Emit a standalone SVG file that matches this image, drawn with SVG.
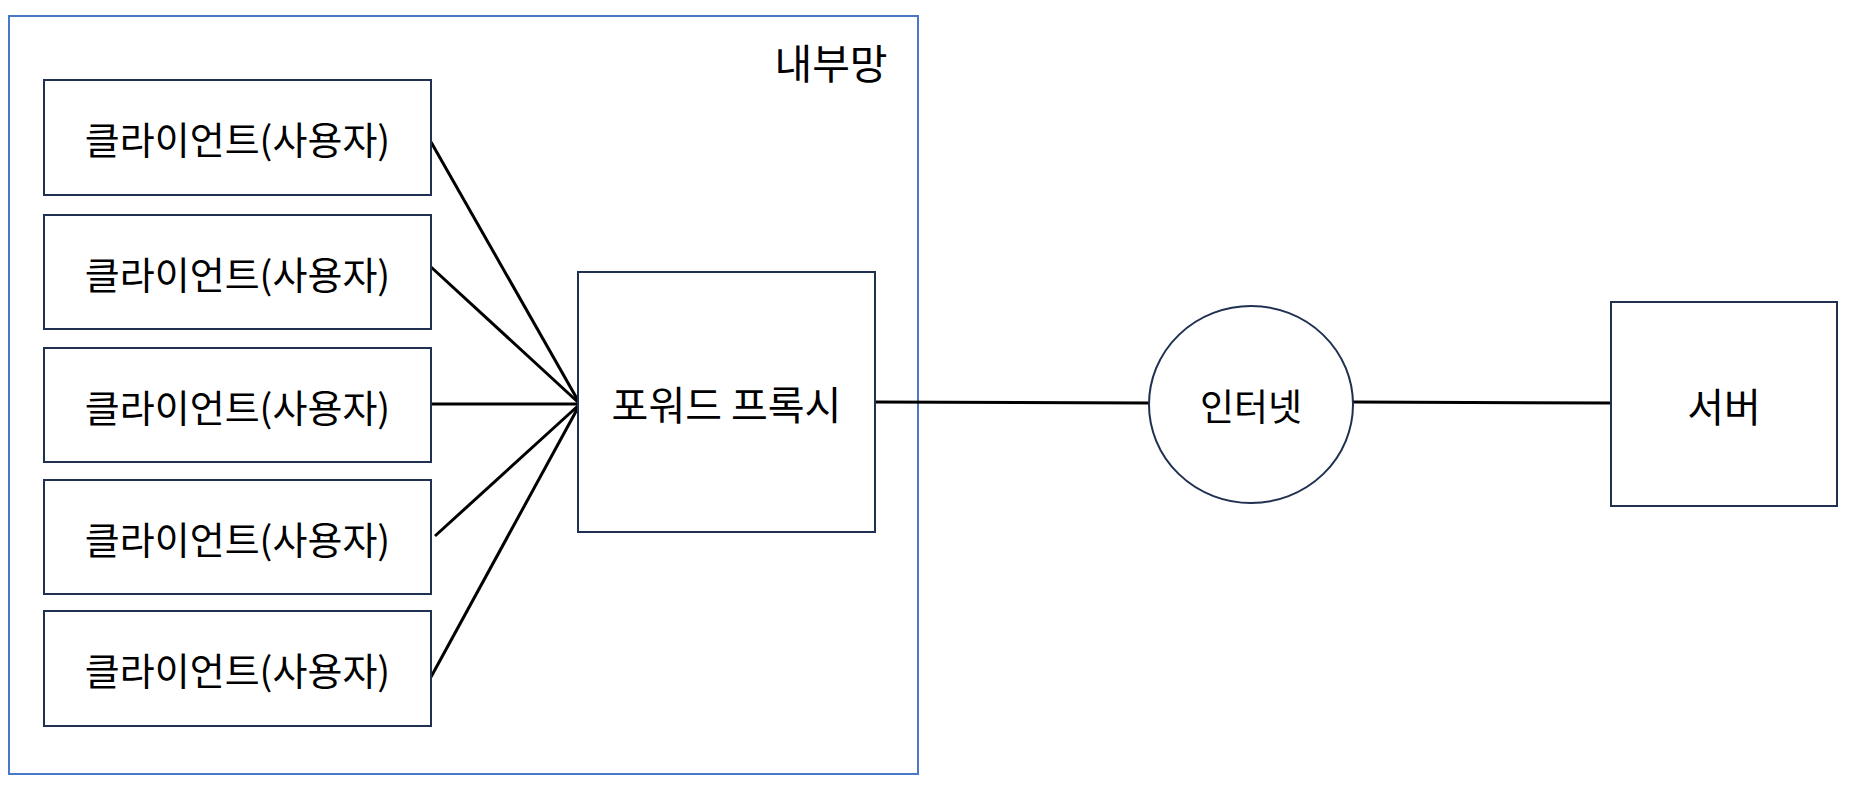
<svg xmlns="http://www.w3.org/2000/svg" width="1860" height="790" viewBox="0 0 1860 790">
<style>
.box{fill:#fff;stroke:#1f3050;stroke-width:2}
.frame{fill:none;stroke:#4a78c8;stroke-width:2}
.lbl{font-family:"Noto Sans CJK KR","Noto Sans",sans-serif;font-size:38px;fill:#000;text-anchor:middle;dominant-baseline:central}
.conn line{stroke:#000;stroke-width:3;stroke-linecap:butt}
</style>
<rect x="0" y="0" width="1860" height="790" fill="#fff"/>
<g id="internal-network">
<rect class="frame" x="9" y="16" width="909" height="758"/>
<text class="lbl" x="831" y="61" style="font-size:41px">내부망</text>
</g>
<g class="conn" id="connectors">
<line x1="431" y1="142" x2="580" y2="404"/>
<line x1="431" y1="267" x2="580" y2="404"/>
<line x1="431" y1="404" x2="580" y2="404"/>
<line x1="435" y1="536" x2="580" y2="404"/>
<line x1="431" y1="677" x2="580" y2="404"/>
<line x1="875" y1="402" x2="1149" y2="403"/>
<line x1="1353" y1="402" x2="1612" y2="403"/>
</g>
<g id="client1"><rect class="box" x="44" y="80" width="387" height="115"/><text class="lbl" x="237.5" y="137.5">클라이언트(사용자)</text></g>
<g id="client2"><rect class="box" x="44" y="215" width="387" height="114"/><text class="lbl" x="237.5" y="272">클라이언트(사용자)</text></g>
<g id="client3"><rect class="box" x="44" y="348" width="387" height="114"/><text class="lbl" x="237.5" y="405">클라이언트(사용자)</text></g>
<g id="client4"><rect class="box" x="44" y="480" width="387" height="114"/><text class="lbl" x="237.5" y="537">클라이언트(사용자)</text></g>
<g id="client5"><rect class="box" x="44" y="611" width="387" height="115"/><text class="lbl" x="237.5" y="668.5">클라이언트(사용자)</text></g>
<g id="proxy"><rect class="box" x="578" y="272" width="297" height="260"/><text class="lbl" x="726.5" y="403" style="font-size:40px">포워드 프록시</text></g>
<g id="internet"><ellipse class="box" cx="1251" cy="404.5" rx="102" ry="98.5"/><text class="lbl" x="1251" y="405" style="font-size:37px">인터넷</text></g>
<g id="server"><rect class="box" x="1611" y="302" width="226" height="204"/><text class="lbl" x="1724" y="404.5" style="font-size:40px">서버</text></g>
</svg>
